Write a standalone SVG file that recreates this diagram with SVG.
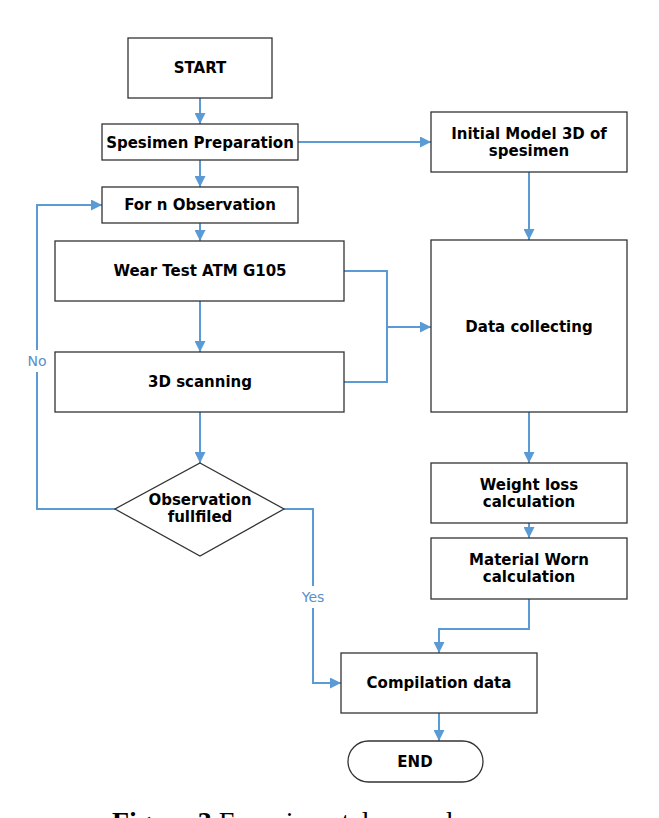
<svg xmlns="http://www.w3.org/2000/svg" width="659" height="818" viewBox="0 0 659 818">
<defs>
<marker id="arr" viewBox="0 0 10 10" refX="10" refY="5" markerWidth="11" markerHeight="11" markerUnits="userSpaceOnUse" orient="auto">
<path d="M0,0 L10,5 L0,10 z" fill="#5B9BD5"/>
</marker>
<style>
.box{fill:#fff;stroke:#333;stroke-width:1.3}
.t{font-family:"DejaVu Sans","Liberation Sans",sans-serif;font-weight:bold;font-size:15px;fill:#000;text-anchor:middle}
.c{fill:none;stroke:#5B9BD5;stroke-width:2}
.lbl{font-family:"DejaVu Sans","Liberation Sans",sans-serif;font-size:14px;fill:#5B8EC9;text-anchor:middle}
</style>
</defs>
<rect width="659" height="818" fill="#fff"/>
<g id="connectors">
<path class="c" d="M200,98 V124" marker-end="url(#arr)"/>
<path class="c" d="M200,160 V187" marker-end="url(#arr)"/>
<path class="c" d="M200,223 V241" marker-end="url(#arr)"/>
<path class="c" d="M200,301 V352" marker-end="url(#arr)"/>
<path class="c" d="M200,412 V463" marker-end="url(#arr)"/>
<path class="c" d="M298,142 H431" marker-end="url(#arr)"/>
<path class="c" d="M529,172 V240" marker-end="url(#arr)"/>
<path class="c" d="M344,271 H387 V382 H344"/>
<path class="c" d="M387,327 H431" marker-end="url(#arr)"/>
<path class="c" d="M529,412 V463" marker-end="url(#arr)"/>
<path class="c" d="M529,523 V538" marker-end="url(#arr)"/>
<path class="c" d="M529,599 V629 H439 V653" marker-end="url(#arr)"/>
<path class="c" d="M115,509 H37 V205 H102" marker-end="url(#arr)"/>
<path class="c" d="M284,509 H313 V683 H341" marker-end="url(#arr)"/>
<path class="c" d="M439,713 V741" marker-end="url(#arr)"/>
<rect x="28" y="350" width="20" height="22" fill="#fff"/>
<text class="lbl" x="37" y="366">No</text>
<rect x="298" y="586" width="30" height="22" fill="#fff"/>
<text class="lbl" x="313" y="602">Yes</text>
</g>
<g id="start"><rect class="box" x="128" y="38" width="144" height="60"/><text class="t" x="200" y="73">START</text></g>
<g id="prep"><rect class="box" x="102" y="124" width="196" height="36"/><text class="t" x="200" y="148">Spesimen Preparation</text></g>
<g id="forn"><rect class="box" x="102" y="187" width="196" height="36"/><text class="t" x="200" y="210">For n Observation</text></g>
<g id="wear"><rect class="box" x="55" y="241" width="289" height="60"/><text class="t" x="200" y="276">Wear Test ATM G105</text></g>
<g id="scan"><rect class="box" x="55" y="352" width="289" height="60"/><text class="t" x="200" y="387">3D scanning</text></g>
<g id="decision"><polygon class="box" points="200,463 284,509 200,556 115,509"/><text class="t" x="200" y="505">Observation</text><text class="t" x="200" y="522">fullfiled</text></g>
<g id="initial"><rect class="box" x="431" y="112" width="196" height="60"/><text class="t" x="529" y="139">Initial Model 3D of</text><text class="t" x="529" y="156">spesimen</text></g>
<g id="data"><rect class="box" x="431" y="240" width="196" height="172"/><text class="t" x="529" y="332">Data collecting</text></g>
<g id="weight"><rect class="box" x="431" y="463" width="196" height="60"/><text class="t" x="529" y="490">Weight loss</text><text class="t" x="529" y="507">calculation</text></g>
<g id="worn"><rect class="box" x="431" y="538" width="196" height="61"/><text class="t" x="529" y="565">Material Worn</text><text class="t" x="529" y="582">calculation</text></g>
<g id="compilation"><rect class="box" x="341" y="653" width="196" height="60"/><text class="t" x="439" y="688">Compilation data</text></g>
<g id="end"><rect class="box" x="348" y="741" width="135" height="41" rx="20.5"/><text class="t" x="415" y="767">END</text></g>
<text x="112" y="831" font-family="'Liberation Serif',serif" font-size="28" fill="#000"><tspan font-weight="bold">Figure 3</tspan> Experimental procedure</text>
</svg>
